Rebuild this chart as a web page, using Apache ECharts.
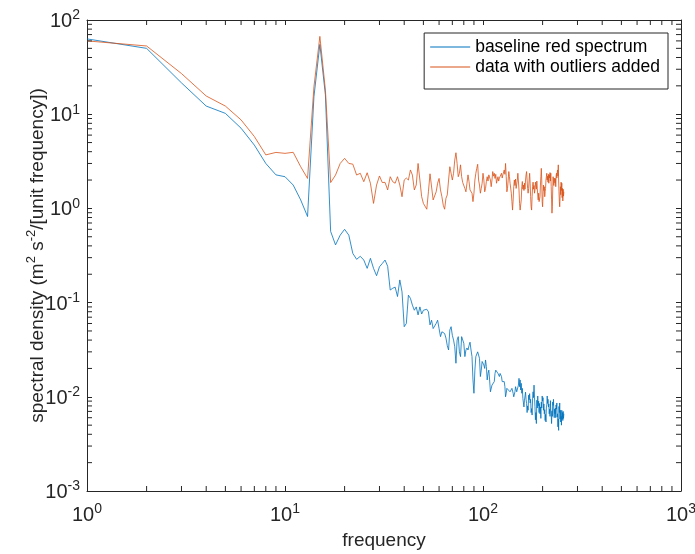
<!DOCTYPE html>
<html>
<head>
<meta charset="utf-8">
<script src="https://cdn.jsdelivr.net/npm/echarts@6/dist/echarts.min.js"></script>
<style>
html, body { margin: 0; padding: 0; background: #fff; }
#main { width: 695px; height: 554px; }
</style>
</head>
<body>
<div id="main"></div>
<script>
// frequency axis (integer frequencies)
var freq = [
  1,2,3,4,5,6,7,8,9,10,11,12,13,14,15,16,17,18,19,20,21,22,23,24,25,26,27,28,29,30,31,32,
  33,34,35,36,37,38,39,40,41,42,43,44,45,46,47,48,49,50,51,52,53,54,55,56,57,58,59,60,61,62,63,64,
  65,66,67,68,69,70,71,72,73,74,75,76,77,78,79,80,81,82,83,84,85,86,87,88,89,90,91,92,93,94,95,96,
  97,98,99,100,101,102,103,104,105,106,107,108,109,110,111,112,113,114,115,116,117,118,119,120,121,122,123,124,125,126,127,128,
  129,130,131,132,133,134,135,136,137,138,139,140,141,142,143,144,145,146,147,148,149,150,151,152,153,154,155,156,157,158,159,160,
  161,162,163,164,165,166,167,168,169,170,171,172,173,174,175,176,177,178,179,180,181,182,183,184,185,186,187,188,189,190,191,192,
  193,194,195,196,197,198,199,200,201,202,203,204,205,206,207,208,209,210,211,212,213,214,215,216,217,218,219,220,221,222,223,224,
  225,226,227,228,229,230,231,232,233,234,235,236,237,238,239,240,241,242,243,244,245,246,247,248,249,250,251,252,253,254,255,256
];

// baseline red spectrum
var baseline = [
  63, 50, 21.5, 12.2, 10.2, 7.1, 4.7, 3.0, 2.27, 2.17,
  1.77, 1.23, 0.82, 15.3, 55, 16, 0.57, 0.41, 0.52, 0.60,
  0.52, 0.333, 0.288, 0.31, 0.283, 0.231, 0.295, 0.231, 0.193, 0.24,
  0.26, 0.283, 0.243, 0.136, 0.142, 0.146, 0.116, 0.174, 0.13, 0.0555,
  0.06, 0.12, 0.111, 0.094, 0.083, 0.09, 0.074, 0.09, 0.0757, 0.083,
  0.083, 0.085, 0.08, 0.058, 0.065, 0.053, 0.0555, 0.06, 0.065, 0.053,
  0.0435, 0.049, 0.0512, 0.047, 0.042, 0.035, 0.0314, 0.0512, 0.0555, 0.045,
  0.040, 0.034, 0.0227, 0.040, 0.0435, 0.030, 0.0267, 0.0435, 0.042, 0.037,
  0.0267, 0.0314, 0.033, 0.0314, 0.035, 0.038, 0.0314, 0.0267, 0.0151, 0.0109,
  0.0192, 0.0267, 0.028, 0.030, 0.0314, 0.0256, 0.0164, 0.0192, 0.0237, 0.0246,
  0.0218, 0.020, 0.0246, 0.0209, 0.0151, 0.0177, 0.0192, 0.0151, 0.0113, 0.0118,
  0.0133, 0.0133, 0.0139, 0.0145, 0.0177, 0.0192, 0.0185, 0.0192, 0.0177, 0.017,
  0.0164, 0.0177, 0.0185, 0.0164, 0.0145, 0.0145, 0.0151, 0.0145, 0.0128, 0.0100,
  0.0109, 0.0123, 0.0128, 0.0123, 0.0118, 0.0118, 0.0113, 0.0109, 0.0118, 0.0123,
  0.0118, 0.0109, 0.0100, 0.0096, 0.0113, 0.0128, 0.0123, 0.0113, 0.0109, 0.0118,
  0.0133, 0.0157, 0.0128, 0.0151, 0.0118, 0.0139, 0.0109, 0.0123, 0.0096, 0.0092,
  0.0078, 0.0092, 0.0096, 0.0112, 0.0094, 0.0085, 0.0068, 0.0080, 0.0072, 0.0104,
  0.0093, 0.0108, 0.0086, 0.0094, 0.0068, 0.0075, 0.0064, 0.0095, 0.0113, 0.0098,
  0.0133, 0.0099, 0.0079, 0.0057, 0.0068, 0.0052, 0.0092, 0.0076, 0.0102, 0.0080,
  0.0090, 0.0068, 0.0085, 0.0066, 0.0078, 0.0059, 0.0088, 0.0076, 0.0102, 0.0090,
  0.0098, 0.0072, 0.0084, 0.0066, 0.0073, 0.0056, 0.0065, 0.0054, 0.0078, 0.0082,
  0.0102, 0.0085, 0.0094, 0.0078, 0.0084, 0.0066, 0.0074, 0.0062, 0.0091, 0.0070,
  0.0066, 0.0052, 0.0071, 0.0062, 0.0088, 0.0081, 0.0094, 0.0066, 0.0060, 0.0074,
  0.0066, 0.0076, 0.0060, 0.0082, 0.0074, 0.0086, 0.0061, 0.0066, 0.0048, 0.0058,
  0.0044, 0.0079, 0.0068, 0.0086, 0.0058, 0.0072, 0.0054, 0.0062, 0.0050, 0.0072,
  0.0058, 0.0068, 0.0056, 0.0070, 0.0059, 0.0066
];

// data with outliers added
var outliers = [
  60, 53, 27, 15.6, 12.2, 8.7, 5.8, 3.7, 3.93, 3.84,
  3.94, 2.77, 2.08, 19.5, 67, 18, 1.88, 2.26, 3.0, 3.4,
  3.0, 2.95, 2.26, 2.36, 1.92, 2.39, 1.85, 1.13, 1.77, 2.21,
  1.88, 1.89, 1.57, 2.17, 1.92, 1.85, 2.17, 1.77, 1.33, 2.0,
  2.1, 2.0, 2.56, 2.26, 1.57, 1.77, 3.0, 2.0, 1.33, 1.13,
  1.18, 0.98, 1.5, 2.33, 2.3, 1.23, 1.28, 1.5, 1.85, 2.08,
  1.57, 1.33, 1.08, 0.98, 1.28, 1.39, 2.0, 2.77, 2.9, 2.0,
  2.36, 3.26, 3.9, 3.0, 2.17, 2.36, 2.9, 2.17, 1.88, 1.85,
  1.63, 1.5, 1.85, 2.27, 1.93, 1.57, 1.5, 1.45, 1.18, 1.45,
  2.0, 2.36, 2.66, 2.94, 2.0, 1.77, 1.45, 1.63, 1.85, 2.36,
  2.0, 1.5, 1.63, 1.93, 2.17, 1.95, 2.27, 2.36, 2.0, 1.70,
  2.0, 2.46, 2.2, 2.36, 2.08, 2.3, 1.85, 1.93, 2.17, 1.95,
  2.1, 2.0, 2.17, 2.36, 2.1, 2.27, 2.2, 2.56, 2.3, 3.0,
  2.17, 1.5, 1.63, 2.0, 2.46, 2.17, 1.85, 1.77, 1.45, 1.18,
  0.96, 1.23, 1.7, 2.0, 1.75, 2.05, 1.63, 1.7, 2.0, 2.36,
  2.27, 1.57, 1.13, 0.96, 0.93, 1.23, 1.7, 1.93, 1.6, 1.77,
  1.55, 1.85, 1.6, 2.0, 2.27, 2.46, 2.0, 1.63, 1.45, 1.63,
  2.0, 2.36, 1.85, 1.33, 1.04, 0.96, 1.33, 1.7, 1.9, 1.6,
  1.75, 1.45, 1.57, 1.9, 1.85, 1.6, 1.95, 1.63, 1.39, 1.23,
  1.45, 1.18, 1.13, 1.33, 1.77, 2.17, 2.66, 2.0, 1.18, 1.04,
  1.39, 1.77, 1.55, 1.7, 1.33, 1.5, 1.63, 2.0, 2.17, 2.36,
  2.0, 2.2, 1.9, 2.3, 1.85, 2.27, 2.1, 2.4, 1.95, 2.36,
  1.7, 1.23, 0.89, 1.04, 1.57, 2.17, 1.9, 1.75, 2.1, 2.17,
  1.85, 2.08, 1.7, 2.2, 2.36, 2.1, 2.4, 2.56, 2.2, 2.9,
  2.0, 1.5, 1.18, 1.04, 1.33, 1.7, 1.4, 1.9, 1.55, 1.85,
  1.3, 1.63, 1.2, 1.6, 1.35, 1.5
];

// minor tick values of the log axes
var xMinorTicks = [2,3,4,5,6,7,8,9, 20,30,40,50,60,70,80,90, 200,300,400,500,600,700,800,900];
var yMinorTicks = [0.002,0.003,0.004,0.005,0.006,0.007,0.008,0.009,
  0.02,0.03,0.04,0.05,0.06,0.07,0.08,0.09,
  0.2,0.3,0.4,0.5,0.6,0.7,0.8,0.9,
  2,3,4,5,6,7,8,9, 20,30,40,50,60,70,80,90];

var FONT = 'Liberation Sans, Arial, Helvetica, sans-serif';
var AXIS = '#262626';
var X_MIN = 1, X_MAX = 1000, Y_MIN = 0.001, Y_MAX = 100;

function pairs(xs, ys) {
  return ys.map(function (v, i) { return [xs[i], v]; });
}

function powLabel(v) {
  return '{b|10}{s|' + Math.round(Math.log10(v)) + '}';
}

var labelRich = {
  b: { fontSize: 20, fontFamily: FONT, color: AXIS, verticalAlign: 'bottom' },
  s: { fontSize: 14, fontFamily: FONT, color: AXIS, verticalAlign: 'bottom', padding: [0, 0, 9, 0] }
};

function logX(pos, show) {
  return {
    type: 'log', min: X_MIN, max: X_MAX, position: pos,
    name: show ? 'frequency' : '', nameLocation: 'middle', nameGap: 40,
    nameMoveOverlap: false,
    nameTextStyle: { fontSize: 19, fontFamily: FONT, color: AXIS },
    axisLine: { show: true, onZero: false, lineStyle: { color: AXIS, width: 1 } },
    axisTick: { show: true, inside: true, length: 5, lineStyle: { color: AXIS } },
    axisLabel: { show: show, formatter: powLabel, rich: labelRich, margin: 11 },
    splitLine: { show: false }
  };
}

function logY(pos, show) {
  return {
    type: 'log', min: Y_MIN, max: Y_MAX, position: pos,
    name: show ? '{t|spectral density (m}{u|2}{t| s}{u|-2}{t|/[unit frequency])}' : '',
    nameLocation: 'middle', nameRotate: 90, nameGap: 40,
    nameMoveOverlap: false,
    nameTextStyle: {
      rich: {
        t: { fontSize: 19, fontFamily: FONT, color: AXIS, verticalAlign: 'bottom' },
        u: { fontSize: 13, fontFamily: FONT, color: AXIS, verticalAlign: 'bottom', padding: [0, 0, 9, 0] }
      }
    },
    axisLine: { show: true, onZero: false, lineStyle: { color: AXIS, width: 1 } },
    axisTick: { show: true, inside: true, length: 5, lineStyle: { color: AXIS } },
    axisLabel: { show: show, formatter: powLabel, rich: labelRich, margin: 7 },
    splitLine: { show: false }
  };
}

// short inward tick marks on all four sides of the box
function minorTicks(params, api) {
  var v = api.value(0), w = api.value(1), side = api.value(2);
  var p, d;
  if (side === 0) { p = api.coord([v, Y_MIN]); d = [0, -5]; }
  else if (side === 1) { p = api.coord([v, Y_MAX]); d = [0, 5]; }
  else if (side === 2) { p = api.coord([X_MIN, w]); d = [5, 0]; }
  else { p = api.coord([X_MAX, w]); d = [-5, 0]; }
  return {
    type: 'line',
    shape: { x1: p[0], y1: p[1], x2: p[0] + d[0], y2: p[1] + d[1] },
    style: { stroke: AXIS, lineWidth: 1 }
  };
}

var tickData = [];
xMinorTicks.forEach(function (v) { tickData.push([v, Y_MIN, 0], [v, Y_MAX, 1]); });
yMinorTicks.forEach(function (w) { tickData.push([X_MIN, w, 2], [X_MAX, w, 3]); });

var chart = echarts.init(document.getElementById('main'), null, { renderer: 'canvas' });

var option = {
  backgroundColor: '#ffffff',
  animation: false,
  grid: { left: 87, right: 14, top: 20, bottom: 63, containLabel: false, outerBoundsMode: 'none' },
  legend: {
    data: ['baseline red spectrum', 'data with outliers added'],
    orient: 'vertical',
    right: 27, top: 33,
    icon: 'rect',
    itemWidth: 40, itemHeight: 1, itemGap: 0,
    padding: [4, 8, 12, 6],
    borderColor: AXIS, borderWidth: 1,
    backgroundColor: '#fff',
    textStyle: { fontSize: 17.5, fontFamily: FONT, color: '#000', lineHeight: 20 }
  },
  xAxis: [logX('bottom', true), logX('top', false)],
  yAxis: [logY('left', true), logY('right', false)],
  series: [
    {
      name: 'baseline red spectrum', type: 'line',
      data: pairs(freq, baseline),
      symbol: 'none', smooth: false,
      lineStyle: { color: '#0072BD', width: 0.8 },
      itemStyle: { color: '#0072BD' }
    },
    {
      name: 'data with outliers added', type: 'line',
      data: pairs(freq, outliers),
      symbol: 'none', smooth: false,
      lineStyle: { color: '#D95319', width: 0.8 },
      itemStyle: { color: '#D95319' }
    },
    {
      name: 'ticks', type: 'custom', silent: true,
      renderItem: minorTicks,
      data: tickData,
      clip: false, z: 5
    }
  ]
};

chart.setOption(option);
</script>
</body>
</html>
